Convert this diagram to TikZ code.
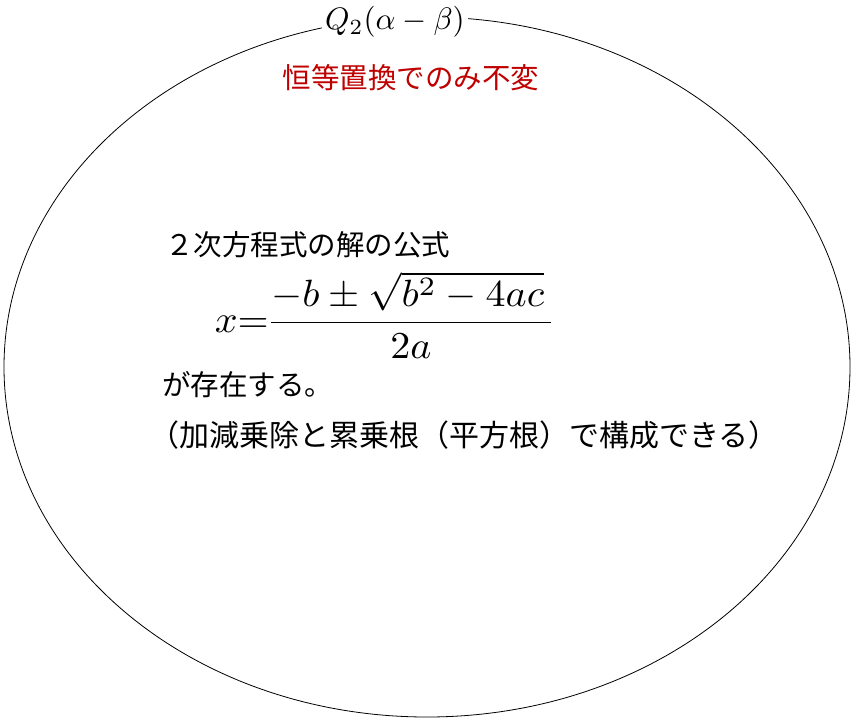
\documentclass[tikz,border=0pt]{standalone}
\usepackage{fontspec}
\usepackage{amsmath}
\newfontfamily\jpfont{Noto Sans CJK JP}
\usetikzlibrary{positioning,shapes.geometric}

\begin{document}
\begin{tikzpicture}[x=1pt,y=-1pt,
  orbitshape/.style={
    ellipse,
    draw=black,
    line width=0.8pt,
    inner sep=0pt,
    minimum width=846pt,
    minimum height=700pt
  },
  grouplabel/.style={
    fill=white,
    inner sep=1pt,
    scale=3.1,
    font=\fontsize{10}{12}\selectfont
  },
  redtext/.style={
    text=red!75!black,
    inner sep=0pt,
    font=\jpfont\fontsize{28.5}{34}\selectfont
  },
  bodytext/.style={
    anchor=west,
    inner sep=0pt,
    font=\jpfont\fontsize{28.5}{34}\selectfont
  }]
  \useasboundingbox (0,0) rectangle (855,721);
  \node [orbitshape] (orbit) at (427,367) {};
  \node [grouplabel] (group) at (395,22) {$Q_{2}(\alpha-\beta)$};
  % invariant
  \node [redtext] (invariant) at (411,78) {恒等置換でのみ不変};
  % formula block
  \node [bodytext] (title) at (165,245) {２次方程式の解の公式};
  \node [anchor=base west,inner sep=0pt,xscale=4,yscale=3.8,font=\fontsize{10}{12}\selectfont]
    (formula) at (214,332) {\nulldelimiterspace=0.6pt$\displaystyle x{=}\frac{-b\pm\sqrt{b^{2}-4ac}\,}{2a}$};
  \node [bodytext] (exists) at (162,385) {が存在する。};
  \node [bodytext,font=\jpfont\fontsize{30}{36}\selectfont]
    (note) at (149,435) {（加減乗除と累乗根（平方根）で構成できる）};
\end{tikzpicture}
\end{document}
